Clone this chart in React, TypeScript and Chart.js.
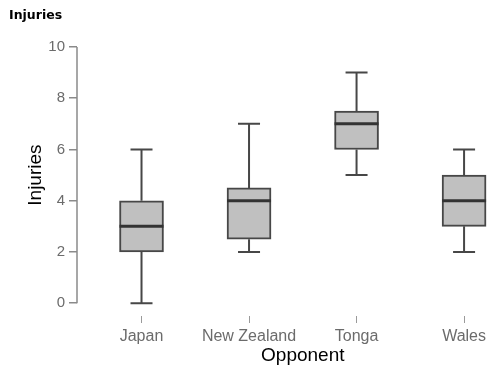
import { useEffect, useRef } from "react";
import { Chart, registerables } from "chart.js";

Chart.register(...registerables);

// Injuries per match against each opponent, as box-plot summaries
const opponents = ["Japan", "New Zealand", "Tonga", "Wales"];
const whiskerLow = [0, 2, 5, 2];
const quartile1 = [2, 2.5, 6, 3];
const medians = [3, 4, 7, 4];
const quartile3 = [4, 4.5, 7.5, 5];
const whiskerHigh = [6, 7, 9, 6];
const yTickValues = [0, 2, 4, 6, 8, 10];

const yTitle = "Injuries";
const xTitle = "Opponent";
const chartTitle = "Injuries";

const AXIS_GRAY = "#8a8a8a";
const LINE_DARK = "#474747";
const BOX_FILL = "#c0c0c0";
const LABEL_FONT = "'Liberation Sans', Arial, sans-serif";

const boxPlotPlugin = {
  id: "boxPlotExtras",
  beforeDatasetsDraw(chart: any) {
    const { ctx } = chart;
    const x = chart.scales.x;
    const y = chart.scales.y;
    ctx.save();
    ctx.strokeStyle = LINE_DARK;
    ctx.lineWidth = 2;
    opponents.forEach((_, i) => {
      const cx = x.getPixelForValue(i);
      const capHalf = 11;
      const lo = y.getPixelForValue(whiskerLow[i]);
      const hi = y.getPixelForValue(whiskerHigh[i]);
      const q1 = y.getPixelForValue(quartile1[i]);
      const q3 = y.getPixelForValue(quartile3[i]);
      ctx.beginPath();
      ctx.moveTo(cx, lo);
      ctx.lineTo(cx, q1);
      ctx.moveTo(cx, q3);
      ctx.lineTo(cx, hi);
      ctx.moveTo(cx - capHalf, lo);
      ctx.lineTo(cx + capHalf, lo);
      ctx.moveTo(cx - capHalf, hi);
      ctx.lineTo(cx + capHalf, hi);
      ctx.stroke();
    });
    ctx.restore();
  },
  afterDatasetsDraw(chart: any) {
    const { ctx, chartArea } = chart;
    const x = chart.scales.x;
    const y = chart.scales.y;
    const meta = chart.getDatasetMeta(0);
    ctx.save();
    // median lines across each box
    ctx.strokeStyle = "#333333";
    ctx.lineWidth = 3;
    meta.data.forEach((bar: any, i: number) => {
      const half = bar.width / 2;
      const my = y.getPixelForValue(medians[i]);
      ctx.beginPath();
      ctx.moveTo(bar.x - half, my);
      ctx.lineTo(bar.x + half, my);
      ctx.stroke();
    });
    // y axis line spanning the labelled range only
    ctx.strokeStyle = AXIS_GRAY;
    ctx.lineWidth = 1.5;
    ctx.beginPath();
    ctx.moveTo(chartArea.left, y.getPixelForValue(yTickValues[0]));
    ctx.lineTo(chartArea.left, y.getPixelForValue(yTickValues[yTickValues.length - 1]));
    ctx.stroke();
    // axis titles
    ctx.fillStyle = "#000000";
    ctx.font = `19px ${LABEL_FONT}`;
    ctx.textAlign = "center";
    ctx.textBaseline = "alphabetic";
    ctx.fillText(xTitle, x.getPixelForValue((opponents.length - 1) / 2), 361);
    ctx.translate(41, y.getPixelForValue((yTickValues[0] + yTickValues[yTickValues.length - 1]) / 2));
    ctx.rotate(-Math.PI / 2);
    ctx.fillText(yTitle, 0, 0);
    ctx.restore();
  },
};

export default function App() {
  const canvasRef = useRef<HTMLCanvasElement | null>(null);

  useEffect(() => {
    if (!canvasRef.current) return;
    const chart = new Chart(canvasRef.current, {
      type: "bar",
      data: {
        datasets: [
          {
            label: "Interquartile range",
            data: opponents.map((_, i) => ({ x: i, y: [quartile1[i], quartile3[i]] })) as any,
            backgroundColor: BOX_FILL,
            borderColor: LINE_DARK,
            borderWidth: 2,
            borderSkipped: false,
            barThickness: 44,
          },
        ],
      },
      options: {
        animation: false,
        responsive: true,
        maintainAspectRatio: false,
        layout: { padding: { left: 9, right: 0, top: 0, bottom: 0 } },
        plugins: {
          legend: { display: false },
          tooltip: { enabled: false },
          title: {
            display: true,
            text: chartTitle,
            align: "start",
            color: "#000000",
            font: { family: "'DejaVu Sans', sans-serif", size: 12.5, weight: "bold" },
            padding: { top: 8, bottom: 24 },
          },
        },
        scales: {
          x: {
            type: "linear",
            min: -0.6,
            max: 3.22,
            offset: false,
            border: { display: false },
            grid: {
              offset: false,
              drawOnChartArea: false,
              drawTicks: true,
              tickLength: 7,
              color: "#9a9a9a",
              lineWidth: 1,
            },
            afterBuildTicks: (scale: any) => {
              scale.ticks = opponents.map((_, i) => ({ value: i }));
            },
            afterFit: (scale: any) => {
              scale.height = 51;
            },
            ticks: {
              padding: 4,
              color: "#6b6b6b",
              font: { family: LABEL_FONT, size: 16 },
              maxRotation: 0,
              autoSkip: false,
              callback: (value: any) => opponents[Number(value)] ?? "",
            },
          },
          y: {
            type: "linear",
            min: -0.5,
            max: 10,
            border: { display: false },
            grid: {
              drawOnChartArea: false,
              drawTicks: true,
              tickLength: 8,
              color: AXIS_GRAY,
              lineWidth: 1.5,
            },
            afterBuildTicks: (scale: any) => {
              scale.ticks = yTickValues.map((v) => ({ value: v }));
            },
            afterFit: (scale: any) => {
              scale.width = 68;
            },
            ticks: {
              padding: 4,
              color: "#6b6b6b",
              font: { family: LABEL_FONT, size: 15 },
            },
          },
        },
      },
      plugins: [boxPlotPlugin],
    });
    return () => chart.destroy();
  }, []);

  return (
    <div style={{ position: "fixed", left: 0, top: 0, width: 490, height: 367, background: "#ffffff" }}>
      <canvas ref={canvasRef} />
    </div>
  );
}
